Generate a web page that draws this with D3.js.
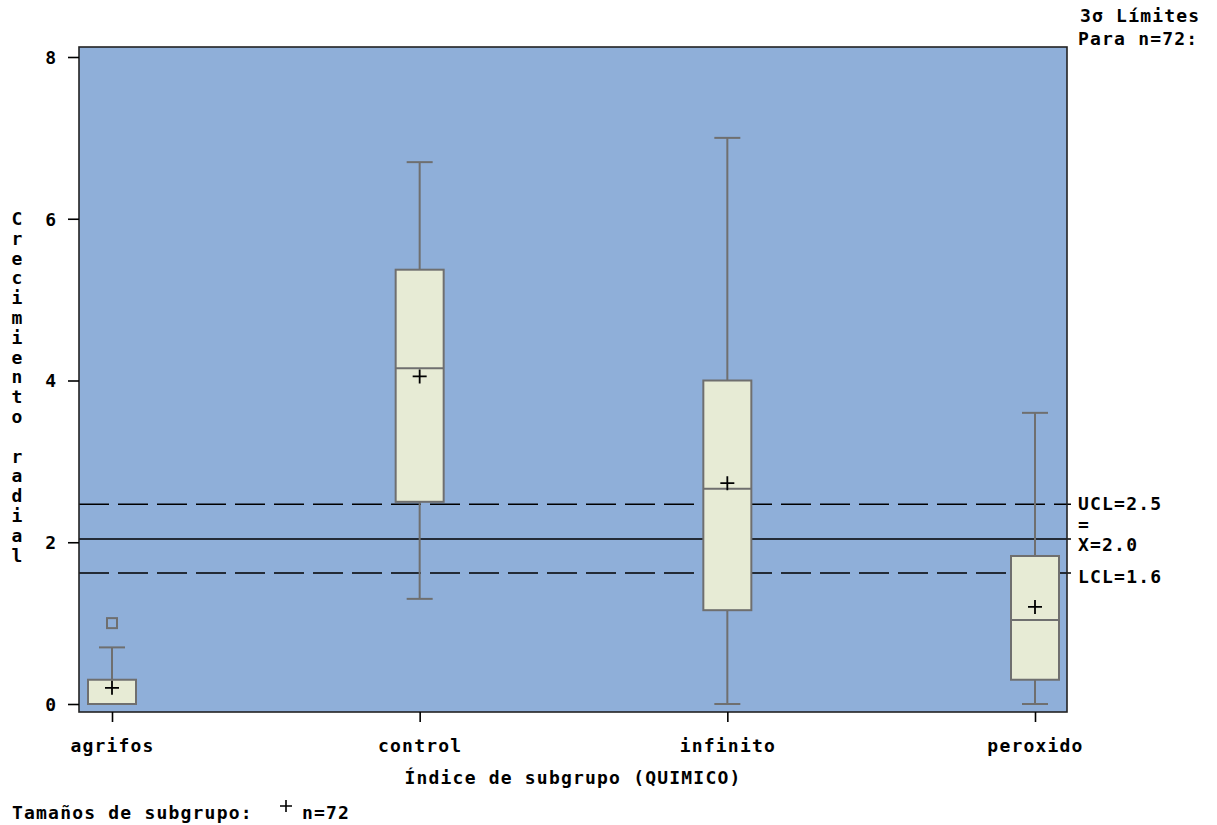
<!DOCTYPE html>
<html>
<head>
<meta charset="utf-8">
<script src="https://cdn.jsdelivr.net/npm/d3@7"></script>
<style>
  html, body { margin: 0; padding: 0; background: #ffffff; }
  svg text { font-family: "DejaVu Sans Mono", "Liberation Mono", monospace; font-weight: bold; fill: #000; }
</style>
</head>
<body>
<svg id="chart" width="1217" height="825"></svg>
<script>
// Subgroup box-plot data (Crecimiento radial by QUIMICO)
const categories = ["agrifos", "control", "infinito", "peroxido"];
const whiskerLow  = [0.0, 1.3, 0.0, 0.0];
const q1          = [0.0, 2.5, 1.16, 0.3];
const medians     = [0.0, 4.15, 2.66, 1.04];
const q3          = [0.3, 5.37, 4.0, 1.83];
const whiskerHigh = [0.7, 6.7, 7.0, 3.6];
const means       = [0.2, 4.05, 2.73, 1.2];
const outliers    = [[1.0], [], [], []];

// Control limits
const ucl = 2.47, centerLine = 2.04, lcl = 1.62;
const limitLabels = ["UCL=2.5", "X=2.0", "LCL=1.6"];
const yTicks = [0, 2, 4, 6, 8];

const svg = d3.select("#chart");
const font = 18;
const spacing = "1.2px";

const frame = { left: 79, right: 1067, top: 47, bottom: 712 };
const y = d3.scaleLinear().domain([0, 8]).range([704, 57]);
const x = d3.scalePoint().domain(categories).range([112, 1035]);
const boxW = 48, capW = 26;

// plot background
svg.append("rect")
  .attr("x", frame.left).attr("y", frame.top)
  .attr("width", frame.right - frame.left).attr("height", frame.bottom - frame.top)
  .attr("fill", "#8fafd9");

// limit lines
const lineG = svg.append("g");
lineG.append("line")
  .attr("x1", frame.left).attr("x2", frame.right + 4)
  .attr("y1", y(ucl)).attr("y2", y(ucl))
  .attr("stroke", "#000").attr("stroke-width", 1.6).attr("stroke-dasharray", "30,9");
lineG.append("line")
  .attr("x1", frame.left).attr("x2", frame.right + 4)
  .attr("y1", y(lcl)).attr("y2", y(lcl))
  .attr("stroke", "#000").attr("stroke-width", 1.6).attr("stroke-dasharray", "30,9");
lineG.append("line")
  .attr("x1", frame.left).attr("x2", frame.right + 4)
  .attr("y1", y(centerLine)).attr("y2", y(centerLine))
  .attr("stroke", "#000").attr("stroke-width", 1.6);

// boxes
const boxColor = "#6f6f6f";
const g = svg.append("g");
categories.forEach((c, i) => {
  const cx = x(c);
  // whiskers
  g.append("line").attr("x1", cx).attr("x2", cx)
    .attr("y1", y(q3[i])).attr("y2", y(whiskerHigh[i]))
    .attr("stroke", boxColor).attr("stroke-width", 2);
  g.append("line").attr("x1", cx).attr("x2", cx)
    .attr("y1", y(q1[i])).attr("y2", y(whiskerLow[i]))
    .attr("stroke", boxColor).attr("stroke-width", 2);
  g.append("line").attr("x1", cx - capW / 2).attr("x2", cx + capW / 2)
    .attr("y1", y(whiskerHigh[i])).attr("y2", y(whiskerHigh[i]))
    .attr("stroke", boxColor).attr("stroke-width", 2);
  g.append("line").attr("x1", cx - capW / 2).attr("x2", cx + capW / 2)
    .attr("y1", y(whiskerLow[i])).attr("y2", y(whiskerLow[i]))
    .attr("stroke", boxColor).attr("stroke-width", 2);
  // box
  g.append("rect")
    .attr("x", cx - boxW / 2).attr("y", y(q3[i]))
    .attr("width", boxW).attr("height", y(q1[i]) - y(q3[i]))
    .attr("fill", "#e7ebd5").attr("stroke", boxColor).attr("stroke-width", 2);
  // median
  g.append("line").attr("x1", cx - boxW / 2).attr("x2", cx + boxW / 2)
    .attr("y1", y(medians[i])).attr("y2", y(medians[i]))
    .attr("stroke", boxColor).attr("stroke-width", 2);
  // mean marker
  const my = y(means[i]);
  g.append("path")
    .attr("d", `M${cx - 7},${my}H${cx + 7}M${cx},${my - 7}V${my + 7}`)
    .attr("stroke", "#000").attr("stroke-width", 1.8).attr("fill", "none");
  // outliers
  outliers[i].forEach(v => {
    g.append("rect")
      .attr("x", cx - 5).attr("y", y(v) - 5).attr("width", 10).attr("height", 10)
      .attr("fill", "none").attr("stroke", boxColor).attr("stroke-width", 2);
  });
});

// frame
svg.append("rect")
  .attr("x", frame.left).attr("y", frame.top)
  .attr("width", frame.right - frame.left).attr("height", frame.bottom - frame.top)
  .attr("fill", "none").attr("stroke", "#222").attr("stroke-width", 1.6);

// y axis
const yAxis = svg.append("g")
  .attr("transform", `translate(${frame.left},0)`)
  .call(d3.axisLeft(y).tickValues(yTicks).tickSize(11).tickPadding(12).tickFormat(d3.format("d")));
yAxis.select(".domain").remove();
yAxis.selectAll(".tick line").attr("stroke", "#000").attr("stroke-width", 1.6);
yAxis.selectAll(".tick text")
  .style("font-family", "DejaVu Sans Mono").style("font-weight", "bold")
  .attr("font-size", font).attr("dy", "0.35em");

// x axis
const xAxis = svg.append("g")
  .attr("transform", `translate(0,${frame.bottom})`)
  .call(d3.axisBottom(x).tickSize(10).tickPadding(17));
xAxis.select(".domain").remove();
xAxis.selectAll(".tick line").attr("stroke", "#000").attr("stroke-width", 1.6);
xAxis.selectAll(".tick text")
  .style("font-family", "DejaVu Sans Mono").style("font-weight", "bold")
  .attr("font-size", font).style("letter-spacing", spacing);

// axis titles
svg.append("text")
  .attr("x", 573).attr("y", 784).attr("text-anchor", "middle")
  .attr("font-size", font).style("letter-spacing", spacing)
  .text("Índice de subgrupo (QUIMICO)");

const yTitle = "Crecimiento radial".split("");
svg.append("g").selectAll("text").data(yTitle).join("text")
  .attr("x", 17).attr("y", (d, i) => 225 + i * 19.8)
  .attr("text-anchor", "middle").attr("font-size", font)
  .text(d => d);

// limit labels
const lx = 1078;
svg.append("text").attr("x", lx).attr("y", y(ucl) + 6).attr("font-size", font)
  .style("letter-spacing", spacing).text(limitLabels[0]);
svg.append("text").attr("x", lx).attr("y", y(centerLine) - 8).attr("font-size", font)
  .text("=");
svg.append("text").attr("x", lx).attr("y", y(centerLine) + 12).attr("font-size", font)
  .style("letter-spacing", spacing).text(limitLabels[1]);
svg.append("text").attr("x", lx).attr("y", y(lcl) + 10).attr("font-size", font)
  .style("letter-spacing", spacing).text(limitLabels[2]);

// header note
svg.append("text").attr("x", 1080).attr("y", 22).attr("font-size", font)
  .style("letter-spacing", spacing).text("3σ Límites");
svg.append("text").attr("x", 1078).attr("y", 45).attr("font-size", font)
  .style("letter-spacing", spacing).text("Para n=72:");

// subgroup size note
svg.append("text").attr("x", 12).attr("y", 819).attr("font-size", font)
  .style("letter-spacing", spacing).text("Tamaños de subgrupo:");
svg.append("path").attr("d", "M280,806H292M286,800V812")
  .attr("stroke", "#000").attr("stroke-width", 1.6);
svg.append("text").attr("x", 302).attr("y", 819).attr("font-size", font)
  .style("letter-spacing", spacing).text("n=72");
</script>
</body>
</html>
